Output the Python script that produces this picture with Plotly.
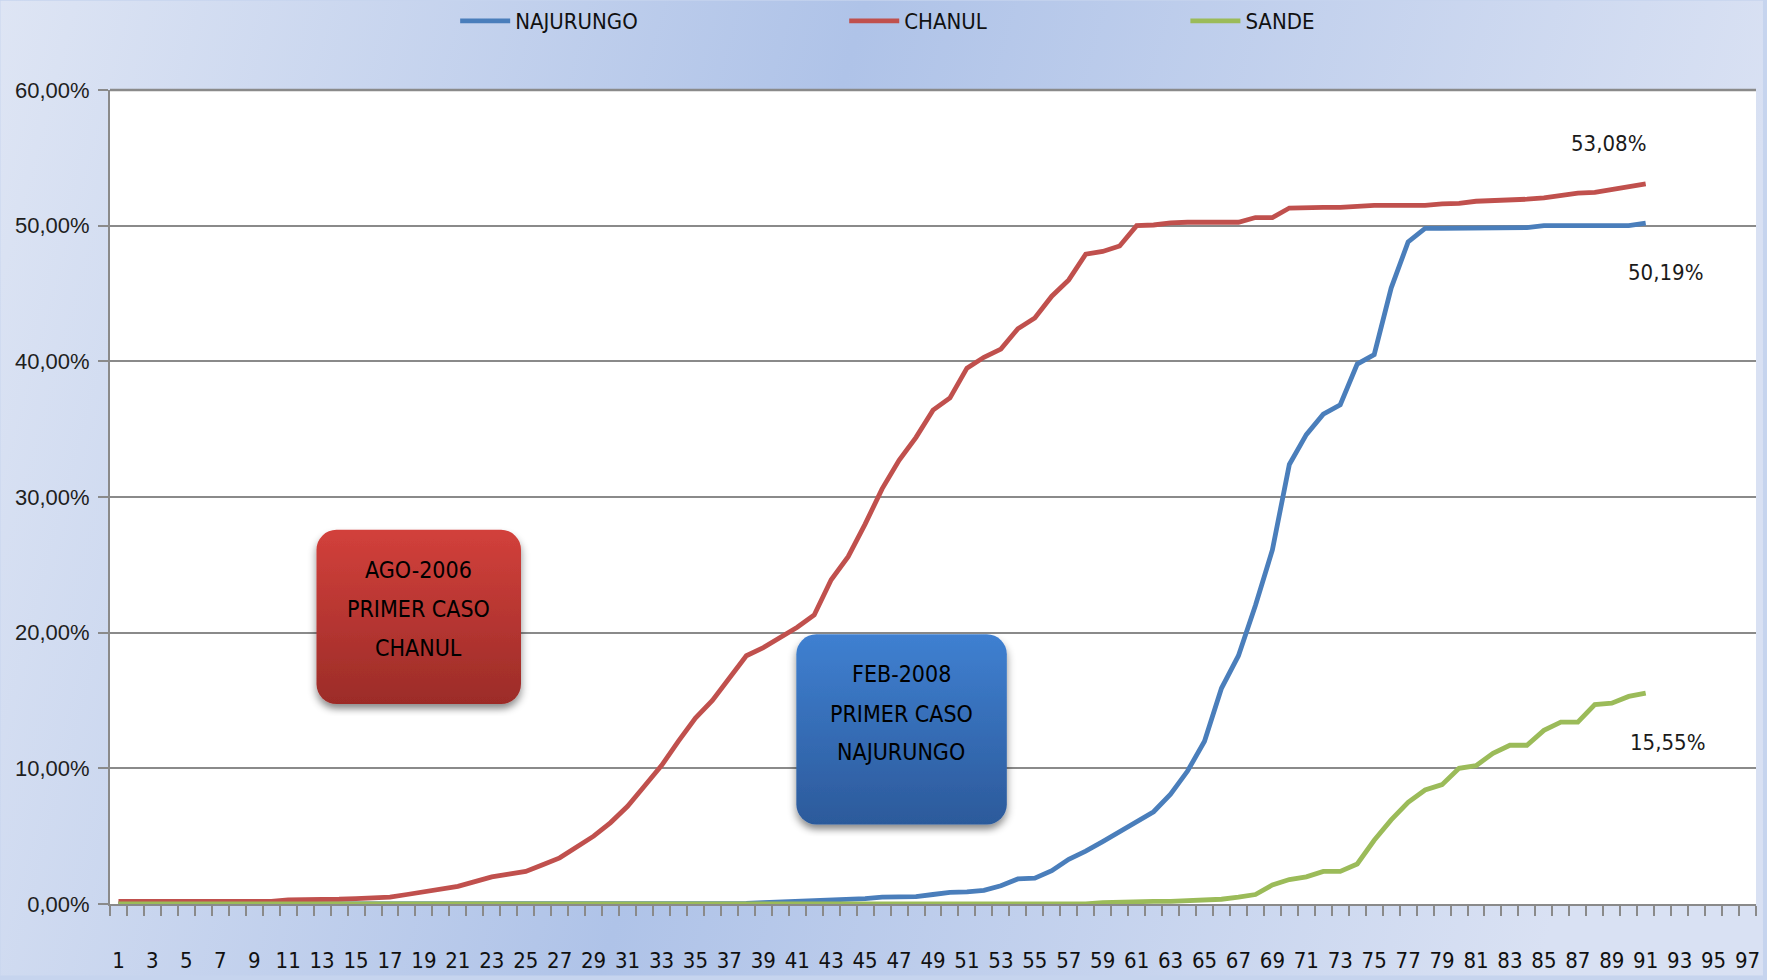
import base64
import plotly.graph_objects as go

# ---------------- data ----------------
categories = list(range(1, 92))

najurungo = [
    0.0, 0.0, 0.0, 0.0, 0.0, 0.0, 0.0, 0.0, 0.0, 0.0,
    0.0, 0.0, 0.0, 0.0, 0.0, 0.0, 0.0, 0.0, 0.0, 0.0,
    0.0, 0.0, 0.0, 0.0, 0.0, 0.0, 0.0, 0.0, 0.0, 0.0,
    0.0, 0.0, 0.0, 0.0, 0.0, 0.0, 0.0, 0.05, 0.1, 0.15,
    0.2, 0.2, 0.25, 0.35, 0.4, 0.5, 0.5, 0.55, 0.7, 0.85,
    0.9, 1.0, 1.35, 1.85, 1.9, 2.45, 3.3, 3.9, 4.6, 5.3,
    6.0, 6.8, 8.1, 9.8, 12.0, 15.9, 18.3, 22.0, 26.1, 32.4,
    34.6, 36.1, 36.8, 39.8, 40.5, 45.4, 48.8, 49.8, 49.8, 49.8,
    49.8, 49.8, 49.8, 49.85, 50.0, 50.0, 50.0, 50.0, 50.0, 50.0,
    50.19,
]

chanul = [
    0.2, 0.2, 0.2, 0.2, 0.2, 0.2, 0.2, 0.2, 0.2, 0.2,
    0.3, 0.3, 0.35, 0.35, 0.4, 0.45, 0.5, 0.7, 0.9, 1.1,
    1.3, 1.65, 2.0, 2.2, 2.4, 2.9, 3.4, 4.2, 5.0, 6.0,
    7.2, 8.7, 10.2, 12.0, 13.7, 15.0, 16.6, 18.3, 18.9, 19.6,
    20.4, 21.3, 23.9, 25.6, 28.0, 30.6, 32.7, 34.4, 36.4, 37.3,
    39.5, 40.3, 40.9, 42.4, 43.2, 44.8, 46.0, 47.9, 48.1, 48.5,
    50.0, 50.05, 50.2, 50.25, 50.25, 50.25, 50.25, 50.6, 50.6, 51.3,
    51.35, 51.35, 51.35, 51.45, 51.5, 51.5, 51.5, 51.5, 51.6, 51.65,
    51.8, 51.85, 51.85, 51.95, 52.05, 52.2, 52.4, 52.45, 52.65, 52.85,
    53.08,
]

sande = [
    0.0, 0.0, 0.0, 0.0, 0.0, 0.0, 0.0, 0.0, 0.0, 0.0,
    0.0, 0.0, 0.0, 0.0, 0.0, 0.0, 0.0, 0.0, 0.0, 0.0,
    0.0, 0.0, 0.0, 0.0, 0.0, 0.0, 0.0, 0.0, 0.0, 0.0,
    0.0, 0.0, 0.0, 0.0, 0.0, 0.0, 0.0, 0.0, 0.0, 0.0,
    0.0, 0.0, 0.0, 0.0, 0.0, 0.0, 0.0, 0.0, 0.0, 0.0,
    0.0, 0.0, 0.0, 0.0, 0.0, 0.0, 0.0, 0.0, 0.1, 0.15,
    0.2, 0.2, 0.2, 0.25, 0.3, 0.35, 0.5, 0.7, 1.4, 1.8,
    2.0, 2.4, 2.4, 2.95, 4.7, 6.2, 7.5, 8.4, 8.8, 10.0,
    10.2, 11.1, 11.7, 11.7, 12.8, 13.4, 13.4, 14.7, 14.8, 15.3,
    15.55,
]

series_names = ["NAJURUNGO", "CHANUL", "SANDE"]
x_tick_vals = list(range(1, 98, 2))
x_tick_text = [str(v) for v in x_tick_vals]
y_tick_vals = [0, 10, 20, 30, 40, 50, 60]
y_tick_text = ["0,00%", "10,00%", "20,00%", "30,00%", "40,00%", "50,00%", "60,00%"]

box_texts = {
    "red": ["AGO-2006", "PRIMER CASO", "CHANUL"],
    "blue": ["FEB-2008", "PRIMER CASO", "NAJURUNGO"],
}

# ---------------- styling ----------------
W, H = 1767, 980
ML, MR, MT, MB = 110, 7, 90, 72
PW, PH = W - ML - MR, H - MT - MB

BLUE = "#4a7ebb"
RED = "#c0504d"
GREEN = "#9bbb59"
GRID = "#8a8a8a"
NARROW = "Liberation Sans Narrow, DejaVu Sans Condensed, sans-serif"


def px_x(px):
    return (px - ML) / PW


def px_y(py):
    return (MT + PH - py) / PH


def svg_uri(svg):
    return "data:image/svg+xml;base64," + base64.b64encode(svg.encode("utf-8")).decode("ascii")


bg_svg = f"""<svg xmlns='http://www.w3.org/2000/svg' width='{W}' height='{H}' viewBox='0 0 {W} {H}' preserveAspectRatio='none'>
<defs><linearGradient id='g' x1='0' y1='0' x2='1' y2='0.15'>
<stop offset='0' stop-color='#dee5f4'/>
<stop offset='0.48' stop-color='#afc3e8'/>
<stop offset='1' stop-color='#d9e1f3'/>
</linearGradient></defs>
<rect x='0' y='0' width='{W}' height='{H}' fill='url(#g)'/>
</svg>"""


def box_svg(w, h, top, bottom, m=12):
    return f"""<svg xmlns='http://www.w3.org/2000/svg' width='{w + 2 * m}' height='{h + 2 * m}' viewBox='0 0 {w + 2 * m} {h + 2 * m}' preserveAspectRatio='none'>
<defs>
<linearGradient id='f' x1='0' y1='0' x2='0' y2='1'>
<stop offset='0' stop-color='{top}'/><stop offset='1' stop-color='{bottom}'/>
</linearGradient>
<filter id='s' x='-20%' y='-20%' width='140%' height='140%'>
<feDropShadow dx='0' dy='5' stdDeviation='4' flood-color='#000' flood-opacity='0.45'/>
</filter></defs>
<rect x='{m}' y='{m}' width='{w}' height='{h}' rx='20' ry='20' fill='url(#f)' filter='url(#s)'/>
</svg>"""


boxes = [
    # (x0, y0, x1, y1, top colour, bottom colour, text key, centre x, line ys)
    (317, 532, 522, 707, "#d2403b", "#9c2c28", "red", 419, [572, 612, 651]),
    (798, 637, 1009, 828, "#3f80d1", "#2c5a9b", "blue", 903, [677, 717, 755]),
]

fig = go.Figure()

colors = [BLUE, RED, GREEN]
values = [najurungo, chanul, sande]
legend_ids = ["legend", "legend2", "legend3"]
for name, vals, col, lg in zip(series_names, values, colors, legend_ids):
    fig.add_trace(go.Scatter(
        x=categories, y=vals, name=name, mode="lines",
        line=dict(color=col, width=4.8), legend=lg,
        hovertemplate="%{x}: %{y:.2f}%<extra>" + name + "</extra>",
    ))

images = [dict(
    source=svg_uri(bg_svg), xref="paper", yref="paper",
    x=-ML / PW, y=1 + MT / PH, sizex=W / PW, sizey=H / PH,
    xanchor="left", yanchor="top", sizing="stretch", layer="below",
)]
annotations = []
m = 12
for x0, y0, x1, y1, ctop, cbot, key, cx, ys in boxes:
    w, h = x1 - x0, y1 - y0
    images.append(dict(
        source=svg_uri(box_svg(w, h, ctop, cbot, m)), xref="paper", yref="paper",
        x=px_x(x0 - m), y=px_y(y0 - m), sizex=(w + 2 * m) / PW, sizey=(h + 2 * m) / PH,
        xanchor="left", yanchor="top", sizing="stretch", layer="above",
    ))
    for txt, yy in zip(box_texts[key], ys):
        annotations.append(dict(
            text=txt, xref="paper", yref="paper", x=px_x(cx), y=px_y(yy),
            xanchor="center", yanchor="middle", showarrow=False,
            font=dict(family=NARROW, size=23, color="#000000"),
        ))

# end-point data labels
label_shifts = [(20, -49), (-37, 40), (22, -49)]
for vals, (dx, dy) in zip(values, label_shifts):
    annotations.append(dict(
        x=categories[-1], y=vals[-1], xref="x", yref="y",
        text=f"{vals[-1]:.2f}".replace(".", ",") + "%",
        showarrow=False, xshift=dx, yshift=dy,
        xanchor="center", yanchor="middle",
        font=dict(family=NARROW, size=22, color="#1a1a1a"),
    ))

legend_common = dict(
    orientation="h", yanchor="top", xanchor="left", yref="container", y=1,
    itemwidth=50,
    bgcolor="rgba(0,0,0,0)", font=dict(family=NARROW, size=22, color="#111111"),
)

fig.update_layout(
    width=W, height=H,
    margin=dict(l=ML, r=MR, t=MT, b=MB, pad=0),
    paper_bgcolor="#c6d4ee",
    plot_bgcolor="white",
    images=images,
    annotations=annotations,
    shapes=[
        dict(type="rect", xref="paper", yref="paper", x0=0, x1=1, y0=0, y1=1,
             fillcolor="white", line=dict(width=0), layer="below"),
        dict(type="line", xref="paper", yref="paper", x0=0, x1=1, y0=1, y1=1,
             line=dict(color=GRID, width=2.5), layer="above"),
    ],
    legend=dict(**legend_common, x=px_x(456)),
    legend2=dict(**legend_common, x=px_x(846)),
    legend3=dict(**legend_common, x=px_x(1188)),
    showlegend=True,
    xaxis=dict(
        range=[0.5, 97.5], tickmode="array", tickvals=x_tick_vals, ticktext=x_tick_text,
        ticks="", showgrid=False, zeroline=False,
        showline=True, linecolor=GRID, linewidth=2,
        tickfont=dict(family=NARROW, size=22, color="#111111"),
        ticklabelstandoff=36,
        minor=dict(ticks="outside", tickmode="linear", tick0=0.5, dtick=1,
                   ticklen=10, tickwidth=1.5, tickcolor=GRID, showgrid=False),
    ),
    yaxis=dict(
        range=[0, 60], tickmode="array", tickvals=y_tick_vals, ticktext=y_tick_text,
        ticks="outside", ticklen=10, tickwidth=1.5, tickcolor=GRID,
        showgrid=True, gridcolor=GRID, gridwidth=2, zeroline=False,
        showline=True, linecolor=GRID, linewidth=2,
        tickfont=dict(family="Liberation Sans, Arial, sans-serif", size=22, color="#1e1e1e"),
        ticklabelstandoff=4,
    ),
)

fig.write_html(
    "out.html",
    config={"displayModeBar": False},
    post_script="document.body.style.margin='0';document.documentElement.style.overflow='hidden';",
)
